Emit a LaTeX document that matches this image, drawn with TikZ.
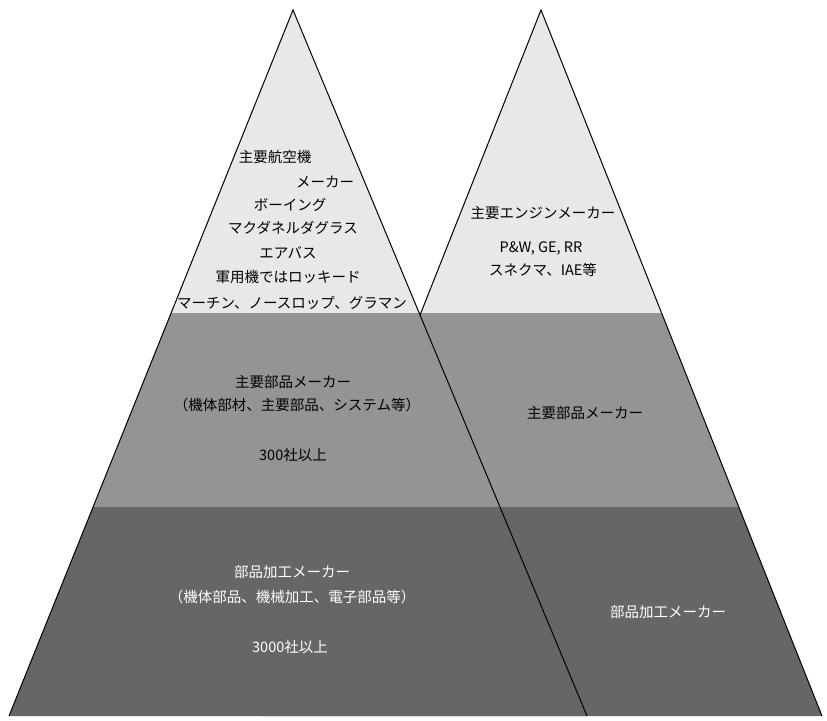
\documentclass[tikz,border=0pt]{standalone}
\usepackage{fontspec}
\setmainfont{Noto Sans CJK JP}
\usepackage{tikz}

\begin{document}
\begin{tikzpicture}[x=1pt, y=-1pt, line width=1pt,
    lbl/.style={inner sep=0pt, font=\fontsize{14.5}{16}\selectfont},
    lbllow/.style={lbl, white}]
    \useasboundingbox (0,0) rectangle (827,720);
    \coordinate (LA) at (293,10);
    \coordinate (LL) at (9,716);
    \coordinate (LR) at (587,716);
    \coordinate (RA) at (541,10);
    \coordinate (RL) at (261,716);
    \coordinate (RR) at (822,716);
    % engine pyramid (behind)
    \begin{scope}
        \clip (RA)--(RL)--(RR)--cycle;
        \fill[black!9] (0,0) rectangle (827,313);
        \fill[black!42] (0,313) rectangle (827,507);
        \fill[black!60] (0,507) rectangle (827,720);
    \end{scope}
    \draw (RL)--(RA)--(RR);
    % airframe pyramid (front)
    \begin{scope}
        \clip (LA)--(LL)--(LR)--cycle;
        \fill[black!9] (0,0) rectangle (827,313);
        \fill[black!42] (0,313) rectangle (827,507);
        \fill[black!60] (0,507) rectangle (827,720);
    \end{scope}
    \draw (LL)--(LA)--(LR);
    % airframe labels
    \node[lbl] (mkA) at (275,157){主要航空機};
    \node[lbl] (mkB) at (325,182){メーカー};
    \node[lbl] (boe) at (290,205){ボーイング};
    \node[lbl] (mdd) at (293,228){マクダネルダグラス};
    \node[lbl] (abs) at (288,253){エアバス};
    \node[lbl] (mil) at (288,277){軍用機ではロッキード};
    \node[lbl] (mng) at (292,303){マーチン、ノースロップ、グラマン};
    \node[lbl] (prtL) at (293,382){主要部品メーカー};
    \node[lbl] (prtLd) at (297,405){（機体部材、主要部品、システム等）};
    \node[lbl] (prtLn) at (293,455){300社以上};
    \node[lbllow] (wrkL) at (292,572){部品加工メーカー};
    \node[lbllow] (wrkLd) at (292,597){（機体部品、機械加工、電子部品等）};
    \node[lbllow] (wrkLn) at (290,647){3000社以上};
    % engine labels
    \node[lbl] (eng) at (543,213){主要エンジンメーカー};
    \node[lbl] (engA) at (541,248){P\&W, GE, RR};
    \node[lbl] (engB) at (543,270){スネクマ、IAE等};
    \node[lbl] (prtR) at (585,413){主要部品メーカー};
    \node[lbllow] (wrkR) at (668,612){部品加工メーカー};
\end{tikzpicture}
\end{document}
